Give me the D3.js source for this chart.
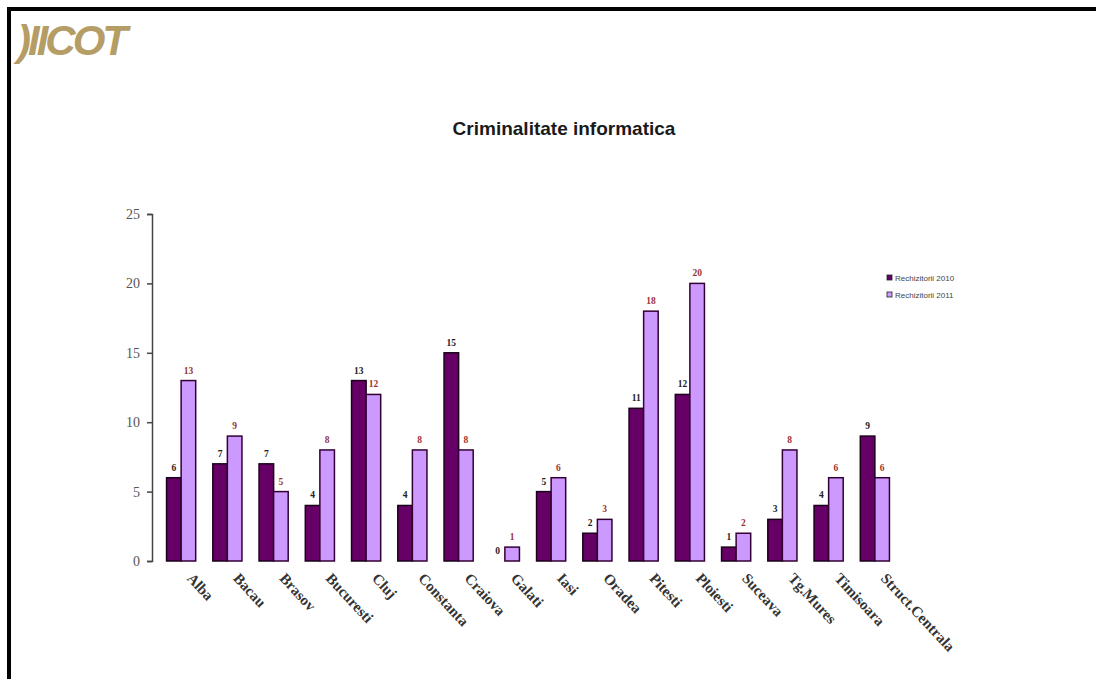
<!DOCTYPE html>
<html>
<head>
<meta charset="utf-8">
<script src="https://cdn.jsdelivr.net/npm/d3@7"></script>
<style>
  body { margin: 0; background: #fff; }
  svg { display: block; }
</style>
</head>
<body>
<svg></svg>
<script>
const categories = ['Alba', 'Bacau', 'Brasov', 'Bucuresti', 'Cluj', 'Constanta', 'Craiova', 'Galati',
  'Iasi', 'Oradea', 'Pitesti', 'Ploiesti', 'Suceava', 'Tg.Mures', 'Timisoara', 'Struct.Centrala'];
const values2010 = [6, 7, 7, 4, 13, 4, 15, 0, 5, 2, 11, 12, 1, 3, 4, 9];
const values2011 = [13, 9, 5, 8, 12, 8, 8, 1, 6, 3, 18, 20, 2, 8, 6, 6];
const seriesNames = ['Rechizitorii 2010', 'Rechizitorii 2011'];
const yTicks = [0, 5, 10, 15, 20, 25];

let width = 1096,
    height = 679;

let svg = d3.select('svg')
            .attr('width', width)
            .attr('height', height);

// page frame (top and left edges only)
svg.append('rect').attr('x', 7).attr('y', 7).attr('width', width).attr('height', 4).attr('fill', '#000');
svg.append('rect').attr('x', 7).attr('y', 7).attr('width', 4).attr('height', height).attr('fill', '#000');

// logo
svg.append('text')
    .attr('x', 17)
    .attr('y', 55)
    .attr('font-family', 'Liberation Sans Narrow, Arial Narrow, sans-serif')
    .attr('font-style', 'italic')
    .attr('font-weight', 'bold')
    .attr('font-size', 42)
    .attr('letter-spacing', -3)
    .attr('fill', '#b59d66')
    .text(')IICOT');

svg.append('text')
    .attr('x', 564)
    .attr('y', 135)
    .attr('text-anchor', 'middle')
    .attr('font-family', 'Liberation Sans, Arial, sans-serif')
    .attr('font-weight', 'bold')
    .attr('font-size', 19)
    .attr('fill', '#1a1a1a')
    .text('Criminalitate informatica');

let y = d3.scaleLinear()
          .domain([0, 25])
          .range([561, 214]);

let x0 = d3.scaleBand()
           .domain(categories)
           .range([158, 898])
           .paddingInner(0.37)
           .paddingOuter(0.185);

let x1 = d3.scaleBand()
           .domain([0, 1])
           .range([0, x0.bandwidth()]);

let yAxis = svg.append('g')
    .attr('transform', 'translate(152,0)')
    .call(d3.axisLeft(y).tickValues(yTicks).tickSize(5).tickPadding(7));

yAxis.select('.domain').attr('stroke', '#444').attr('stroke-width', 1.5);
yAxis.selectAll('.tick line').attr('stroke', '#444').attr('stroke-width', 1.5);
yAxis.selectAll('.tick text')
    .attr('font-family', 'Liberation Serif, Times New Roman, serif')
    .attr('font-size', 14)
    .attr('fill', '#555');

let rows = categories.map((c, i) => ({ cat: c, vals: [values2010[i], values2011[i]] }));
let fills = ['#660066', '#cc99ff'];
let strokes = ['#1a001a', '#330033'];
let labelColors = ['#222', '#993333'];

let groups = svg.append('g')
    .selectAll('g')
    .data(rows)
    .enter()
    .append('g')
    .attr('transform', d => `translate(${x0(d.cat)},0)`);

groups.selectAll('rect')
    .data(d => d.vals)
    .enter()
    .append('rect')
    .attr('x', (d, i) => x1(i))
    .attr('y', d => y(d))
    .attr('width', x1.bandwidth())
    .attr('height', d => y(0) - y(d))
    .attr('fill', (d, i) => fills[i])
    .attr('stroke', (d, i) => strokes[i])
    .attr('stroke-width', 1.5);

groups.selectAll('text.val')
    .data(d => d.vals)
    .enter()
    .append('text')
    .attr('class', 'val')
    .attr('x', (d, i) => x1(i) + x1.bandwidth() / 2)
    .attr('y', d => y(d) - 7)
    .attr('text-anchor', 'middle')
    .attr('font-family', 'Liberation Serif, Times New Roman, serif')
    .attr('font-weight', 'bold')
    .attr('font-size', 9.5)
    .attr('fill', (d, i) => labelColors[i])
    .text(d => d);

// rotated category labels
svg.append('g')
    .selectAll('text')
    .data(categories)
    .enter()
    .append('text')
    .attr('transform', d => `translate(${x0(d) + x0.bandwidth() / 2 + 5},579) rotate(47)`)
    .attr('font-family', 'Liberation Serif, Times New Roman, serif')
    .attr('font-weight', 'bold')
    .attr('font-size', 15)
    .attr('fill', '#333')
    .text(d => d);

// legend
let legend = svg.append('g')
    .attr('transform', 'translate(887,278)');

legend.selectAll('rect')
    .data(seriesNames)
    .enter()
    .append('rect')
    .attr('x', 0)
    .attr('y', (d, i) => i * 17 - 3)
    .attr('width', 5)
    .attr('height', 5)
    .attr('fill', (d, i) => fills[i])
    .attr('stroke', '#222')
    .attr('stroke-width', 0.8);

legend.selectAll('text')
    .data(seriesNames)
    .enter()
    .append('text')
    .attr('x', 8)
    .attr('y', (d, i) => i * 17 + 2.5)
    .attr('font-family', 'Liberation Sans, Arial, sans-serif')
    .attr('font-size', 8)
    .attr('fill', '#444')
    .text(d => d);
</script>
</body>
</html>
